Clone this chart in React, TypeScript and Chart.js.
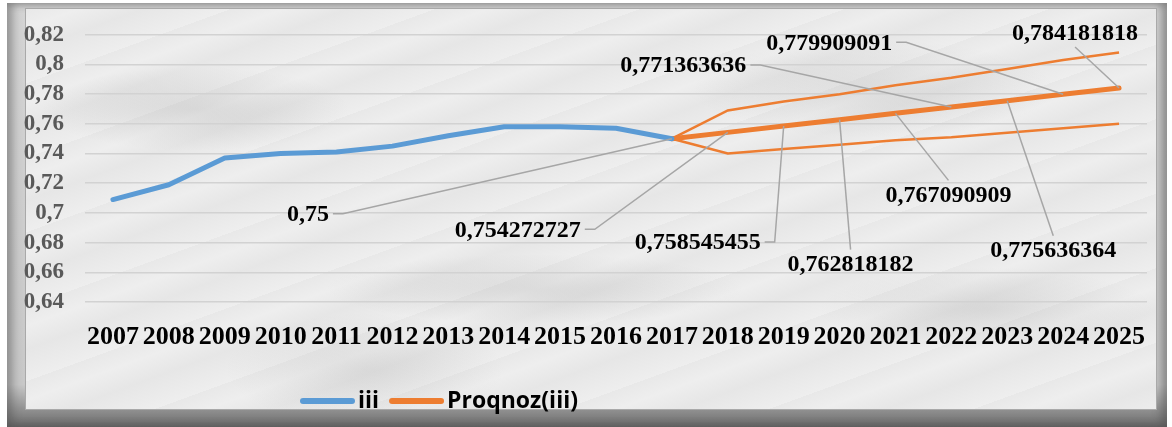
import React, { useEffect, useRef } from "react";
import { Chart, registerables } from "chart.js";

Chart.register(...registerables);

const years = ["2007","2008","2009","2010","2011","2012","2013","2014","2015","2016","2017","2018","2019","2020","2021","2022","2023","2024","2025"];
const iiiValues = [0.709, 0.719, 0.737, 0.740, 0.741, 0.745, 0.752, 0.758, 0.758, 0.757, 0.75, null, null, null, null, null, null, null, null];
const forecastValues = [null, null, null, null, null, null, null, null, null, null, 0.75, 0.754272727, 0.758545455, 0.762818182, 0.767090909, 0.771363636, 0.775636364, 0.779909091, 0.784181818];
const upperBound = [null, null, null, null, null, null, null, null, null, null, 0.75, 0.769, 0.775, 0.780, 0.786, 0.791, 0.797, 0.803, 0.808];
const lowerBound = [null, null, null, null, null, null, null, null, null, null, 0.75, 0.740, 0.743, 0.746, 0.749, 0.751, 0.754, 0.757, 0.760];
const yTicks = [0.64, 0.66, 0.68, 0.7, 0.72, 0.74, 0.76, 0.78, 0.8, 0.82];
const seriesNames = ["iii", "Proqnoz(iii)"];

// label placement (pixel offsets of label centre from its point)
const labelOffsets: [number, number][] = [
  [-364, 75], [-210, 97], [-86, 116], [11, 144], [53, 81], [-268, -42], [46, 149], [-234, -52], [-44, -55],
];

const BLUE = "#5B9BD5";
const ORANGE = "#ED7D31";

const fmt = (v: number) => String(v).replace(".", ",");

const labelPlugin = {
  id: "forecastLabels",
  afterDatasetsDraw(chart: any) {
    const ctx = chart.ctx;
    const meta = chart.getDatasetMeta(1);
    ctx.save();
    ctx.font = 'bold 24px "Liberation Serif", "Times New Roman", serif';
    ctx.textAlign = "center";
    ctx.textBaseline = "middle";
    let j = 0;
    forecastValues.forEach((v, i) => {
      if (v === null) return;
      const el = meta.data[i];
      const px = el.x, py = el.y;
      const [dx, dy] = labelOffsets[j] || [0, -30];
      j++;
      const cx = px + dx, cy = py + dy;
      const text = fmt(v);
      const w = ctx.measureText(text).width;
      const right = cx + w / 2, top = cy - 11, bottom = cy + 11;
      ctx.strokeStyle = "#a6a6a6";
      ctx.lineWidth = 1.5;
      ctx.beginPath();
      if (px > right + 4) {
        ctx.moveTo(right + 4, cy);
        ctx.lineTo(right + 14, cy);
        ctx.lineTo(px, py);
      } else if (py < top) {
        ctx.moveTo(cx, top - 3);
        ctx.lineTo(px, py);
      } else {
        ctx.moveTo(cx, bottom + 3);
        ctx.lineTo(px, py);
      }
      ctx.stroke();
      ctx.fillStyle = "#000";
      ctx.fillText(text, cx, cy + 1);
    });
    ctx.restore();
  },
};

const legendPlugin = {
  id: "customLegend",
  afterDraw(chart: any) {
    const ctx = chart.ctx;
    const area = chart.chartArea;
    const y = 401;
    let x = area.left + 215;
    ctx.save();
    ctx.font = 'bold 23px "Open Sans", "Liberation Sans", sans-serif';
    ctx.textBaseline = "middle";
    ctx.textAlign = "left";
    const colors = [BLUE, ORANGE];
    seriesNames.forEach((name, k) => {
      ctx.strokeStyle = colors[k];
      ctx.lineWidth = 6;
      ctx.lineCap = "round";
      ctx.beginPath();
      ctx.moveTo(x + 3, y);
      ctx.lineTo(x + 52, y);
      ctx.stroke();
      x += 58;
      ctx.fillStyle = "#000";
      ctx.fillText(name, x, y);
      x += ctx.measureText(name).width + 10;
    });
    ctx.restore();
  },
};

export default function App() {
  const ref = useRef<HTMLCanvasElement>(null);
  useEffect(() => {
    if (!ref.current) return;
    const chart = new Chart(ref.current, {
      type: "line",
      data: {
        labels: years,
        datasets: [
          { label: seriesNames[0], data: iiiValues, borderColor: BLUE, borderWidth: 5, pointRadius: 0, borderJoinStyle: "round", borderCapStyle: "round" },
          { label: seriesNames[1], data: forecastValues, borderColor: ORANGE, borderWidth: 5, pointRadius: 0, borderJoinStyle: "round", borderCapStyle: "round" },
          { label: "upper", data: upperBound, borderColor: ORANGE, borderWidth: 2.5, pointRadius: 0 },
          { label: "lower", data: lowerBound, borderColor: ORANGE, borderWidth: 2.5, pointRadius: 0 },
        ],
      },
      options: {
        animation: false,
        responsive: false,
        layout: { padding: { left: 0, right: 25, top: 32, bottom: 0 } },
        plugins: { legend: { display: false }, tooltip: { enabled: false } },
        scales: {
          x: {
            offset: true,
            grid: { display: false },
            border: { display: false },
            ticks: {
              autoSkip: false,
              maxRotation: 0,
              minRotation: 0,
              padding: 12,
              color: "#000",
              font: { family: '"Liberation Serif", "Times New Roman", serif', weight: "bold", size: 26 },
            },
            afterFit(s: any) { s.height = 125; },
          },
          y: {
            min: yTicks[0],
            max: yTicks[yTicks.length - 1],
            afterBuildTicks(s: any) { s.ticks = yTicks.map((v) => ({ value: v })); },
            ticks: {
              autoSkip: false,
              padding: 21,
              color: "#595959",
              font: { family: '"Liberation Serif", "Times New Roman", serif', weight: "bold", size: 23 },
              callback: (v: any) => fmt(Math.round(Number(v) * 100) / 100),
            },
            grid: { color: "#d2d2d2", lineWidth: 1.5, drawTicks: false },
            border: { display: false },
            afterFit(s: any) { s.width = 85; },
          },
        },
      },
      plugins: [labelPlugin, legendPlugin],
    });
    return () => chart.destroy();
  }, []);

  const marble =
    "radial-gradient(ellipse 220px 60px at 15% 25%, rgba(110,110,110,0.16), transparent 70%)," +
    "radial-gradient(ellipse 300px 50px at 45% 70%, rgba(110,110,110,0.14), transparent 70%)," +
    "radial-gradient(ellipse 260px 70px at 75% 20%, rgba(110,110,110,0.13), transparent 70%)," +
    "radial-gradient(ellipse 240px 60px at 85% 75%, rgba(110,110,110,0.14), transparent 70%)," +
    "radial-gradient(ellipse 200px 80px at 30% 90%, rgba(110,110,110,0.12), transparent 70%)," +
    "repeating-linear-gradient(160deg, rgba(140,140,140,0.06) 0px, rgba(140,140,140,0.0) 18px, rgba(140,140,140,0.08) 40px, rgba(140,140,140,0) 70px)," +
    "#eeeeee";

  return (
    <div style={{ position: "fixed", left: 0, top: 0, width: 1172, height: 427, background: "#ffffff", overflow: "hidden" }}>
      <div style={{ position: "absolute", left: 7, top: 3, width: 1160, height: 424, background: "linear-gradient(to bottom, #d4d4d4 0%, #c8c8c8 90%, #6a6a6a 100%)", boxShadow: "inset 6px 0 8px rgba(80,80,80,0.45), inset -6px 0 8px rgba(80,80,80,0.5)" }} />
      <div style={{ position: "absolute", left: 25, top: 8, width: 1132, height: 402, background: marble, border: "1px solid #a9a9a9", boxSizing: "border-box" }} />
      <canvas ref={ref} width={1172} height={427} style={{ position: "absolute", left: 0, top: 0, width: 1172, height: 427 }} />
    </div>
  );
}
